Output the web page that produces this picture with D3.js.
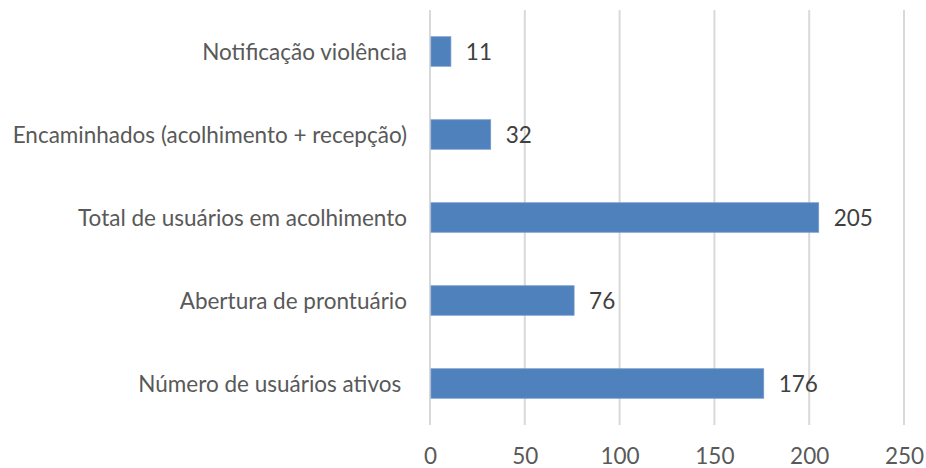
<!DOCTYPE html>
<html><head><meta charset="utf-8">
<script src="https://cdn.jsdelivr.net/npm/d3@7"></script>
<style>body{margin:0;background:#fff}svg{display:block}</style>
</head><body>
<svg id="c" width="926" height="468"></svg>
<script>
const categories = ["Notificação violência","Encaminhados (acolhimento + recepção)","Total de usuários em acolhimento","Abertura de prontuário","Número de usuários ativos "];
const values = [11, 32, 205, 76, 176];
const ticks = [0, 50, 100, 150, 200, 250];

const svg = d3.select("#c");
const font = "Lato, 'Open Sans', sans-serif";
const fs = 22.5;
const x = d3.scaleLinear().domain([0, 250]).range([430, 904]);
const y = d3.scaleBand().domain(categories).range([10, 425]).paddingInner(0.645).paddingOuter(0.3225);

svg.append("g").selectAll("line").data(ticks).join("line")
  .attr("x1", d => x(d)).attr("x2", d => x(d)).attr("y1", 10).attr("y2", 425)
  .attr("stroke", "#d9d9d9").attr("stroke-width", 2);

svg.append("g").selectAll("rect").data(values).join("rect")
  .attr("x", x(0) + 1).attr("y", (d, i) => y(categories[i]))
  .attr("width", d => x(d) - x(0) - 1).attr("height", y.bandwidth())
  .attr("fill", "#4f81bd").attr("stroke", "#6f97cb").attr("stroke-width", 0.8);

svg.append("g").selectAll("text").data(values).join("text")
  .attr("x", d => x(d) + 15).attr("y", (d, i) => y(categories[i]) + y.bandwidth() / 2)
  .attr("dy", "0.36em").attr("font-family", font).attr("font-size", fs).attr("fill", "#404040")
  .text(d => d);

svg.append("g").selectAll("text").data(categories).join("text")
  .attr("x", 407).attr("y", d => y(d) + y.bandwidth() / 2).attr("dy", "0.36em")
  .attr("text-anchor", "end").attr("font-family", font).attr("font-size", fs).attr("fill", "#595959")
  .style("white-space", "pre").text(d => d);

const xAxis = svg.append("g")
  .call(d3.axisBottom(x).tickValues(ticks).tickSize(0).tickPadding(0));
xAxis.select(".domain").remove();
xAxis.selectAll("text").attr("font-family", font).attr("font-size", fs).attr("fill", "#595959")
  .attr("y", 464).attr("dy", 0);
</script>
</body></html>
